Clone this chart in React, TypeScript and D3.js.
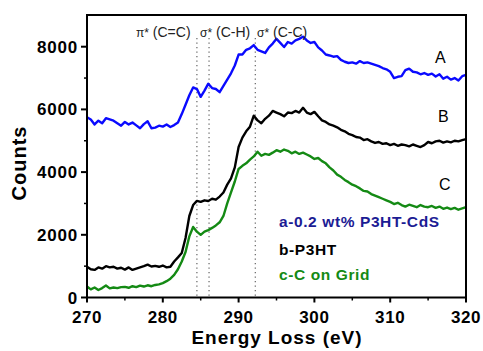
import React from "react";
import * as d3 from "d3";

const energy: number[] = d3.range(270, 320.001, 0.5);

const seriesA: number[] = [
  5750, 5680, 5520, 5640, 5560, 5720, 5680, 5640, 5560, 5480,
  5600, 5520, 5580, 5490, 5400, 5530, 5620, 5400, 5420, 5480,
  5450, 5520, 5440, 5500, 5580, 5850, 6150, 6450, 6700, 6650,
  6400, 6600, 6820, 6680, 6650, 6550, 6750, 6950, 7150, 7400,
  7750, 7750, 7900, 7950, 8050, 7900, 7850, 7800, 7980, 8100,
  8250, 8120, 7990, 8150, 8100, 8200, 8250, 8320, 8200, 8120,
  8150, 7980, 7880, 7750, 7720, 7680, 7700, 7580, 7520, 7480,
  7500, 7460, 7540, 7480, 7500, 7460, 7420, 7380, 7320, 7280,
  7200, 7000, 7040, 7060, 7250, 7300, 7200, 7180, 7120, 7160,
  7100, 7140, 7050, 7120, 6980, 7040, 6950, 7000, 6920, 7060,
  7100,
];

const seriesB: number[] = [
  980, 900, 880, 960, 920, 1000, 960, 980, 920, 950,
  890, 960, 880, 920, 960, 1000, 1050, 990, 1010, 980,
  1020, 960, 980, 1150, 1280, 1420, 1900, 2600, 2950, 3080,
  3050, 3100, 3080, 3150, 3120, 3220, 3350, 3600, 3800, 4150,
  4800, 5100, 5300, 5450, 5800, 5650, 5560, 5700, 5800, 5950,
  5900, 5850, 5780, 5900, 5880, 5950, 5900, 6050, 5900, 5850,
  5920, 5780, 5650, 5600, 5520, 5480, 5430, 5350, 5300, 5220,
  5180, 5120, 5100, 5020, 5050, 4980, 4930, 4960, 4900, 4920,
  4860, 4900, 4840, 4880, 4860, 4820, 4880, 4840, 4800, 4860,
  4960, 4920, 4980, 5000, 4940, 4980, 4950, 5000, 4980, 5020,
  5050,
];

const seriesC: number[] = [
  350, 260, 320, 240, 300, 380, 290, 320, 300, 330,
  340, 310, 360, 330, 380, 350, 390, 360, 400, 420,
  460, 520, 600, 720, 900, 1150, 1450, 1950, 2250, 2100,
  2000, 2100, 2150, 2220, 2300, 2400, 2600, 3000, 3350, 3700,
  4100, 4200, 4280, 4400, 4500, 4650, 4520, 4580, 4550, 4620,
  4700, 4650, 4720, 4680, 4600, 4650, 4580, 4620, 4560, 4500,
  4420, 4450, 4350, 4280, 4150, 4050, 3920, 3850, 3750, 3680,
  3600, 3550, 3480, 3400, 3380, 3300, 3250, 3200, 3150, 3100,
  3050, 2980, 3020, 2950, 2900, 2960, 2920, 2880, 2950, 2900,
  2880, 2920, 2860, 2900, 2830, 2870, 2820, 2860, 2800, 2840,
  2880,
];

const markerEnergies: number[] = [284.5, 286.1, 292.2];
const xTicks: number[] = [270, 280, 290, 300, 310, 320];
const xMinor: number[] = [275, 285, 295, 305, 315];
const yTicks: number[] = [0, 2000, 4000, 6000, 8000];
const yMinor: number[] = [1000, 3000, 5000, 7000, 9000];

const W = 483, H = 351;
const left = 87, right = 466, top = 15, bottom = 297.5;

export default function App() {
  const x = d3.scaleLinear().domain([270, 320]).range([left, right]);
  const ys = d3.scaleLinear().domain([0, 8000]).range([bottom, 46.7]);
  const line = d3
    .line<number>()
    .x((_, i) => x(energy[i]))
    .y((v) => ys(v))
    .curve(d3.curveLinear);

  const font = "'Liberation Sans', Arial, sans-serif";
  const curves = [
    { data: seriesA, color: "#0a0aff" },
    { data: seriesB, color: "#000000" },
    { data: seriesC, color: "#148a14" },
  ];

  return (
    <svg width={W} height={H} style={{ position: "absolute", left: 0, top: 0 }} fontFamily={font}>
      <rect x={0} y={0} width={W} height={H} fill="#fff" />
      {markerEnergies.map((e, i) => (
        <line key={i} x1={x(e)} x2={x(e)} y1={38} y2={bottom} stroke="#555" strokeWidth={1.1} strokeDasharray="1.2,3.3" />
      ))}
      {curves.map((c, i) => (
        <path key={i} d={line(c.data) || ""} fill="none" stroke={c.color} strokeWidth={2.4} strokeLinejoin="round" />
      ))}
      <rect x={left} y={top} width={right - left} height={bottom - top} fill="none" stroke="#000" strokeWidth={2} />
      {xTicks.map((t) => (
        <g key={t}>
          <line x1={x(t)} x2={x(t)} y1={bottom} y2={bottom + 5} stroke="#000" strokeWidth={2} />
          <text x={x(t)} y={323} textAnchor="middle" fontSize={17} letterSpacing={0.6} fontWeight="bold">{t}</text>
        </g>
      ))}
      {xMinor.map((t) => (
        <line key={t} x1={x(t)} x2={x(t)} y1={bottom} y2={bottom + 3} stroke="#000" strokeWidth={1.5} />
      ))}
      {yTicks.map((t) => (
        <g key={t}>
          <line x1={left - 6} x2={left} y1={ys(t)} y2={ys(t)} stroke="#000" strokeWidth={2} />
          <text x={78} y={ys(t) + 6} textAnchor="end" fontSize={17} letterSpacing={0.8} fontWeight="bold">{t}</text>
        </g>
      ))}
      {yMinor.filter((t) => ys(t) > top + 2).map((t) => (
        <line key={t} x1={left - 3} x2={left} y1={ys(t)} y2={ys(t)} stroke="#000" strokeWidth={1.5} />
      ))}
      <text transform={`translate(26,163) rotate(-90)`} textAnchor="middle" fontSize={20} letterSpacing={1} fontWeight="bold">Counts</text>
      <text x={277} y={344} textAnchor="middle" fontSize={19} letterSpacing={1} fontWeight="bold">Energy Loss (eV)</text>

      <text x={136} y={37} fontSize={14} fill="#222"><tspan fontSize={12}>π*</tspan> (C=C)</text>
      <text x={200} y={37} fontSize={14} fill="#222"><tspan fontSize={12}>σ*</tspan> (C-H)</text>
      <text x={257} y={37} fontSize={14} fill="#222"><tspan fontSize={12}>σ*</tspan> (C-C)</text>

      <text x={435} y={63} fontSize={16} fill="#000">A</text>
      <text x={438} y={122} fontSize={16} fill="#000">B</text>
      <text x={439} y={190} fontSize={16} fill="#000">C</text>

      <text x={279} y={227} fontSize={15.5} letterSpacing={0.6} fontWeight="bold" fill="#1c1c94">a-0.2 wt% P3HT-CdS</text>
      <text x={279} y={255} fontSize={15.5} letterSpacing={0.6} fontWeight="bold" fill="#000">b-P3HT</text>
      <text x={279} y={280} fontSize={15.5} letterSpacing={0.6} fontWeight="bold" fill="#148a14">c-C on Grid</text>
    </svg>
  );
}
